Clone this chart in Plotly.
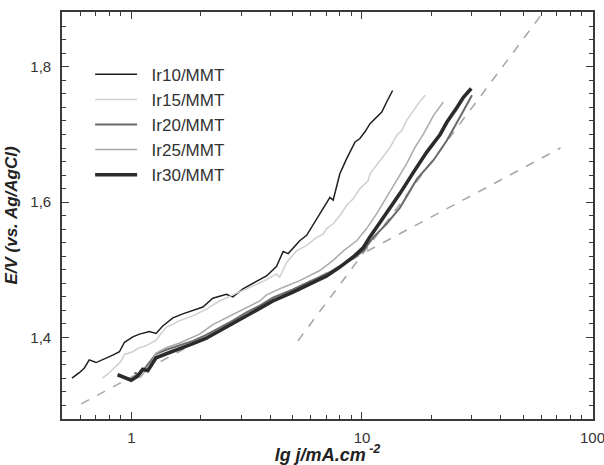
import numpy as np
import plotly.graph_objects as go

# ---- data (lg j in log10(mA cm^-2), E in V vs Ag/AgCl) ----
lgj_ir10 = [-0.258, -0.226, -0.204, -0.183, -0.153, -0.125, -0.081, -0.052, -0.030, 0.006,
            0.035, 0.078, 0.107, 0.136, 0.180, 0.223, 0.267, 0.310, 0.353, 0.412,
            0.440, 0.484, 0.542, 0.586, 0.629, 0.658, 0.680, 0.701, 0.730, 0.760,
            0.781, 0.810, 0.832, 0.861, 0.875, 0.893, 0.904, 0.933, 0.970, 0.991,
            1.013, 1.035, 1.064, 1.086, 1.107, 1.133]
E_ir10 = [1.340, 1.348, 1.355, 1.367, 1.363, 1.367, 1.374, 1.379, 1.393, 1.401,
          1.405, 1.409, 1.406, 1.417, 1.429, 1.435, 1.440, 1.445, 1.458, 1.464,
          1.460, 1.472, 1.483, 1.491, 1.505, 1.527, 1.524, 1.532, 1.543, 1.551,
          1.563, 1.578, 1.590, 1.607, 1.603, 1.627, 1.642, 1.664, 1.689, 1.694,
          1.704, 1.716, 1.726, 1.733, 1.748, 1.765]

lgj_ir15 = [-0.125, -0.096, -0.045, -0.030, 0.006, 0.035, 0.064, 0.107, 0.122, 0.151,
            0.209, 0.267, 0.325, 0.383, 0.440, 0.513, 0.578, 0.629, 0.643, 0.673,
            0.716, 0.760, 0.796, 0.832, 0.847, 0.875, 0.904, 0.933, 0.962, 0.991,
            1.027, 1.035, 1.078, 1.122, 1.151, 1.173, 1.194, 1.223, 1.245, 1.274]
E_ir15 = [1.340, 1.348, 1.365, 1.375, 1.379, 1.385, 1.388, 1.396, 1.403, 1.415,
          1.425, 1.432, 1.442, 1.454, 1.463, 1.474, 1.484, 1.494, 1.489, 1.511,
          1.528, 1.536, 1.546, 1.553, 1.561, 1.568, 1.580, 1.595, 1.605, 1.620,
          1.632, 1.642, 1.662, 1.681, 1.699, 1.706, 1.721, 1.736, 1.746, 1.758]

lgj_ir20 = [0.013, 0.035, 0.064, 0.107, 0.151, 0.209, 0.267, 0.325, 0.383, 0.440,
            0.499, 0.557, 0.614, 0.701, 0.774, 0.847, 0.904, 0.962, 1.006, 1.049,
            1.107, 1.165, 1.238, 1.310, 1.368, 1.412, 1.448, 1.477]
E_ir20 = [1.348, 1.345, 1.357, 1.376, 1.382, 1.388, 1.395, 1.404, 1.414, 1.425,
          1.437, 1.447, 1.459, 1.471, 1.483, 1.494, 1.505, 1.517, 1.528, 1.548,
          1.568, 1.592, 1.634, 1.662, 1.691, 1.717, 1.740, 1.758]

lgj_ir25 = [0.035, 0.057, 0.078, 0.107, 0.151, 0.209, 0.296, 0.353, 0.412, 0.499,
            0.557, 0.586, 0.657, 0.730, 0.817, 0.875, 0.919, 0.977, 1.020, 1.064,
            1.107, 1.151, 1.194, 1.230, 1.267, 1.310, 1.353]
E_ir25 = [1.340, 1.348, 1.357, 1.377, 1.385, 1.392, 1.405, 1.419, 1.429, 1.444,
          1.454, 1.463, 1.474, 1.484, 1.499, 1.514, 1.528, 1.543, 1.561, 1.583,
          1.607, 1.632, 1.657, 1.681, 1.701, 1.728, 1.748]

lgj_ir30 = [-0.060, -0.030, -0.001, 0.027, 0.049, 0.071, 0.107, 0.151, 0.209, 0.267,
            0.325, 0.383, 0.440, 0.499, 0.557, 0.614, 0.701, 0.774, 0.847, 0.904,
            0.962, 1.006, 1.035, 1.078, 1.122, 1.165, 1.223, 1.281, 1.339, 1.368,
            1.412, 1.440, 1.474]
E_ir30 = [1.345, 1.341, 1.337, 1.343, 1.353, 1.351, 1.370, 1.376, 1.383, 1.391,
          1.399, 1.410, 1.420, 1.432, 1.442, 1.454, 1.467, 1.479, 1.491, 1.504,
          1.519, 1.533, 1.549, 1.570, 1.591, 1.613, 1.644, 1.674, 1.700, 1.718,
          1.740, 1.755, 1.768]

# Tafel fit lines (dashed)
tafel_low_j = [0.606, 72.6]
tafel_low_E = [1.302, 1.680]
tafel_high_j = [5.27, 64.4]
tafel_high_E = [1.395, 1.891]

names = ["Ir10/MMT", "Ir15/MMT", "Ir20/MMT", "Ir25/MMT", "Ir30/MMT"]
series = [(lgj_ir10, E_ir10), (lgj_ir15, E_ir15), (lgj_ir20, E_ir20),
          (lgj_ir25, E_ir25), (lgj_ir30, E_ir30)]
colors = ["#1e1e1e", "#cfcfcf", "#6a6a6a", "#a9a9a9", "#2b2b2b"]
widths = [1.5, 1.5, 2.0, 1.5, 3.6]

x_ticks = [1, 10, 100]
x_minor = [0.6, 0.7, 0.8, 0.9, 2, 3, 4, 5, 6, 7, 8, 9, 20, 30, 40, 50, 60, 70, 80, 90]
y_ticks = [1.4, 1.6, 1.8]
y_minor = [round(1.28 + 0.02 * i, 2) for i in range(31) if round(1.28 + 0.02 * i, 2) not in y_ticks]

fig = go.Figure()

for jj, ee in [(tafel_low_j, tafel_low_E), (tafel_high_j, tafel_high_E)]:
    fig.add_trace(go.Scatter(x=jj, y=ee, mode="lines", showlegend=False,
                             line=dict(color="#a8a8a8", width=1.6, dash="dash"),
                             hoverinfo="skip"))

for (lg, ee), nm, c, w in zip(series, names, colors, widths):
    fig.add_trace(go.Scatter(x=10 ** np.array(lg), y=ee, mode="lines",
                             name="\u00a0\u00a0" + nm,
                             line=dict(color=c, width=w)))

axis_common = dict(showline=True, linecolor="#3a3a3a", linewidth=1.6, mirror="ticks",
                   ticks="inside", ticklen=7, tickwidth=1.3, tickcolor="#3a3a3a",
                   showgrid=False, zeroline=False, ticklabeloverflow="allow",
                   tickfont=dict(family="Liberation Sans, Arial", size=15, color="#333"))

fig.update_layout(
    width=604, height=465,
    margin=dict(l=62, r=11, t=12, b=46, autoexpand=False),
    paper_bgcolor="white", plot_bgcolor="white",
    separators=",.",
    xaxis=dict(type="log", range=[np.log10(0.5), 2.002], tickvals=x_ticks,
               ticktext=["1", "10", "100"], ticklabelstandoff=4,
               minor=dict(tickvals=x_minor, ticks="inside", ticklen=4, tickcolor="#3a3a3a", tickwidth=1.2),
               title=dict(text="<b><i>lg j/mA.cm<sup> -2</sup></i></b>", standoff=8,
                         font=dict(family="Liberation Sans, Arial", size=18, color="#222")),
               **axis_common),
    yaxis=dict(range=[1.2796, 1.881], tickvals=y_ticks, tickformat=".1f", ticklabelstandoff=6,
               minor=dict(tickvals=y_minor, ticks="inside", ticklen=4, tickcolor="#3a3a3a", tickwidth=1.2),
               title=dict(text="<b><i>E/V (vs. Ag/AgCl)</i></b>", standoff=8,
                         font=dict(family="Liberation Sans, Arial", size=17, color="#222")),
               **axis_common),
    legend=dict(x=0.053, y=0.89, xanchor="left", yanchor="top", bgcolor="rgba(0,0,0,0)",
                itemwidth=42, font=dict(family="Liberation Sans, Arial", size=17, color="#333"),
                tracegroupgap=0),
    showlegend=True,
)

fig.write_html("out.html")
